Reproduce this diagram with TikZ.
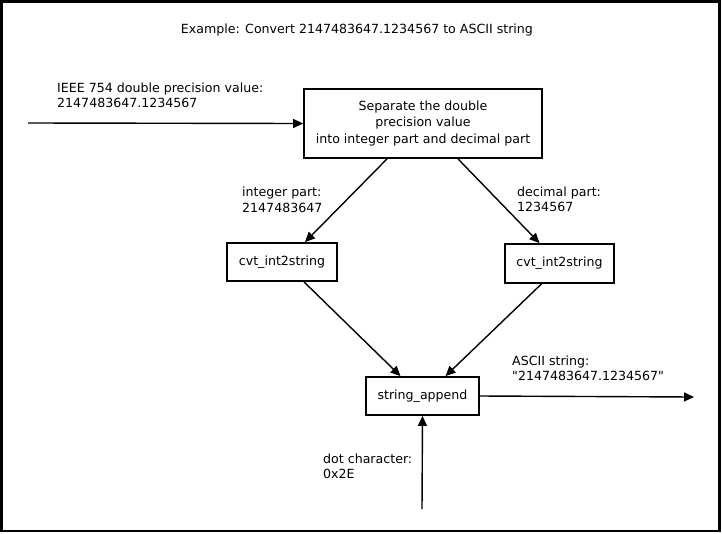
\documentclass[tikz,border=0pt]{standalone}
\usepackage{fontspec}
\setmainfont{DejaVu Sans}
\newfontfamily\plaindv{DejaVu Sans}
\usetikzlibrary{arrows.meta}
\begin{document}
\begin{tikzpicture}[x=1pt,y=-1pt,
  font=\fontsize{12.6}{15}\selectfont,
  box/.style={draw,line width=1.8pt,rectangle,inner sep=0pt,align=center},
  conn/.style={line width=1.4pt,-{Triangle[length=10pt,width=9pt]}},
  lbl/.style={anchor=west,align=left,inner sep=0pt,font=\fontsize{12.6}{15.5}\selectfont}]
\useasboundingbox (0,0) rectangle (722,533);
\draw[line width=2.6pt] (1.3,1.3) rectangle (719.5,530.8);
\node[inner sep=0pt] (title) at (357,30) {Example: Convert 2147483647.1234567 to ASCII string};
\node[box,minimum width=238pt,minimum height=69pt,font=\fontsize{12.6}{16.5}\selectfont] (sep) at (423,123.5)
  {Separate the double\\precision value\\into integer part and decimal part};
\node[box,minimum width=110pt,minimum height=38pt] (cvtL) at (282,262) {cvt\_int2string};
\node[box,minimum width=109pt,minimum height=39pt] (cvtR) at (559.5,263.5) {cvt\_int2string};
\node[box,minimum width=113pt,minimum height=38pt] (sa) at (422.5,396) {string\_append};
\coordinate (in) at (28,123);
\coordinate (out) at (694,397);
\coordinate (dot) at (422,509);
\node[lbl] (linput) at (57,95.5) {IEEE 754 double precision value:\\2147483647.1234567};
\node[lbl] (lint) at (242,200) {integer part:\\2147483647};
\node[lbl] (ldec) at (517,199.5) {decimal part:\\1234567};
\node[lbl] (lascii) at (512,368.5) {ASCII string:\\{\plaindv "2147483647.1234567"}};
\node[lbl] (ldot) at (323,466.5) {dot character:\\0x2E};
\draw[conn] (in) -- (sep.west);
\draw[conn] ([xshift=-36pt]sep.south) -- ([xshift=23pt]cvtL.north);
\draw[conn] ([xshift=35pt]sep.south) -- ([xshift=-20pt]cvtR.north);
\draw[conn] ([xshift=22pt]cvtL.south) -- ([xshift=-22pt]sa.north);
\draw[conn] ([xshift=-18pt]cvtR.south) -- ([xshift=23pt]sa.north);
\draw[conn] (sa.east) -- (out);
\draw[conn] (dot) -- (sa.south);
\end{tikzpicture}
\end{document}
